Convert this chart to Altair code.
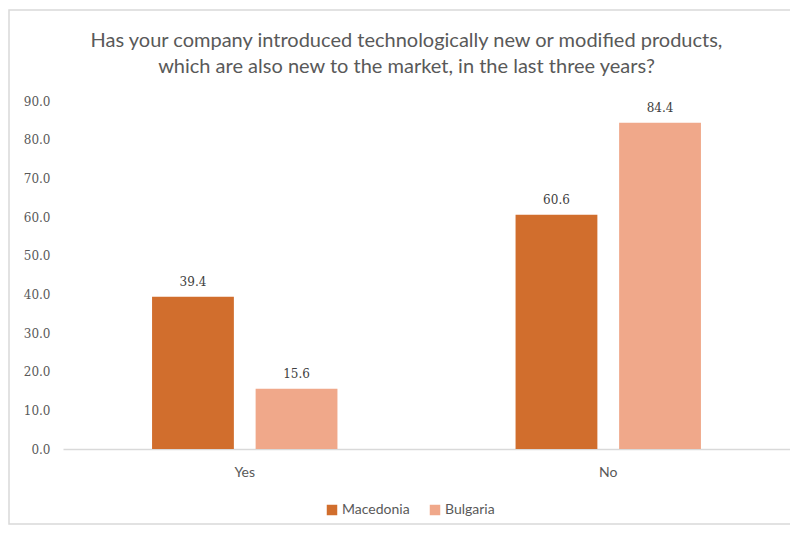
import altair as alt
import pandas as pd

categories = ["Yes", "No"]
countries = ["Macedonia", "Bulgaria"]
macedonia = [39.4, 60.6]
bulgaria = [15.6, 84.4]
colors = ["#D16E2D", "#F0A88A"]

rows = []
for i, c in enumerate(categories):
    rows.append({"answer": c, "country": "Macedonia", "value": macedonia[i]})
    rows.append({"answer": c, "country": "Bulgaria", "value": bulgaria[i]})
df = pd.DataFrame(rows)

x = alt.X("answer:N", sort=categories, title=None,
          scale=alt.Scale(paddingInner=0.49, paddingOuter=0.245),
          axis=alt.Axis(labelAngle=0, ticks=False, domainColor="#D9D9D9", domainWidth=1.5,
                        labelFont="Lato", labelFontSize=14, labelColor="#595959", labelPadding=16))
xo = alt.XOffset("country:N", sort=countries, scale=alt.Scale(paddingInner=0.21))
y = alt.Y("value:Q", title=None, scale=alt.Scale(domain=[0, 90]),
          axis=alt.Axis(values=list(range(0, 91, 10)), format=".1f", grid=False, domain=False,
                        ticks=False, labelFont="DejaVu Serif", labelFontSize=12,
                        labelColor="#595959", labelPadding=13))

bars = alt.Chart(df).mark_bar().encode(
    x=x, xOffset=xo, y=y,
    color=alt.Color("country:N", sort=countries, title=None,
                    scale=alt.Scale(domain=countries, range=colors),
                    legend=alt.Legend(orient="none", legendX=262, legendY=402, direction="horizontal",
                                      symbolType="square", symbolSize=110, symbolStrokeWidth=0,
                                      labelFont="Lato", labelFontSize=14, labelColor="#595959",
                                      columnPadding=18, labelOffset=3)),
)

labels = alt.Chart(df).mark_text(baseline="bottom", dy=-8, font="DejaVu Serif",
                                 fontSize=12, color="#404040").encode(
    x=x, xOffset=xo, y=y, text=alt.Text("value:Q", format=".1f"))

border = alt.Chart(pd.DataFrame({"a": [0]})).mark_rect(
    fill=None, stroke="#D9D9D9", strokeWidth=1.5).encode(
    x=alt.value(-54), x2=alt.value(760), y=alt.value(-91), y2=alt.value(423))

chart = alt.layer(border, bars, labels).properties(
    width=727, height=348,
    autosize=alt.AutoSizeParams(type="none"),
    padding={"left": 55, "top": 93, "right": 0, "bottom": 76},
    title=alt.Title(["Has your company introduced technologically new or modified products,",
                     "which are also new to the market, in the last three years?"],
                    font="Lato", fontSize=20, fontWeight="normal", color="#595959",
                    anchor="middle", dx=-20, offset=-68, lineHeight=26),
).configure_view(stroke=None)

chart.save("out.html", embed_options={"renderer": "svg", "actions": False})
